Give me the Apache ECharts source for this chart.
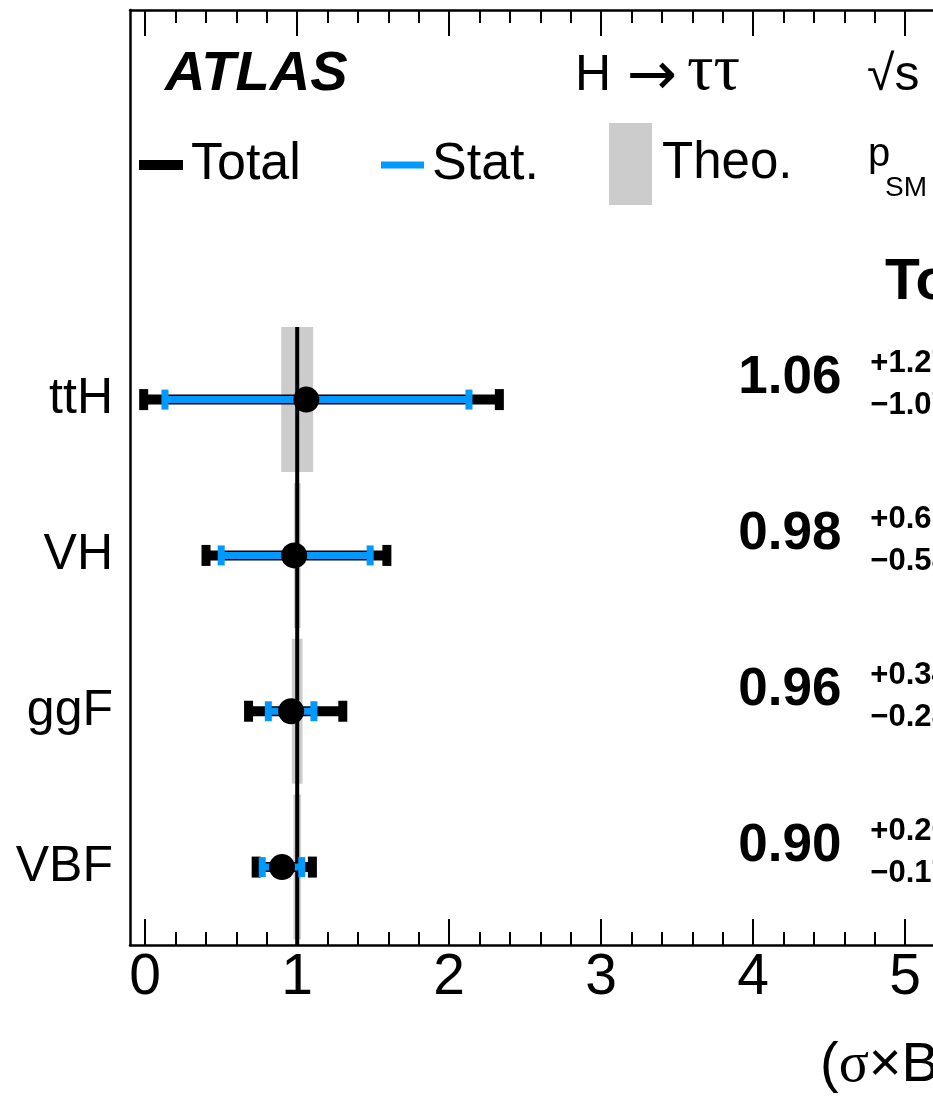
<!DOCTYPE html>
<html>
<head>
<meta charset="utf-8">
<title>H → ττ cross-section ratios</title>
<script src="https://cdn.jsdelivr.net/npm/echarts@6/dist/echarts.min.js"></script>
<style>
  html, body { margin: 0; padding: 0; background: #fff; }
  #chart { width: 933px; height: 1102px; }
</style>
</head>
<body>
<div id="chart"></div>
<script>
// production modes, listed top to bottom as in the plot
const modes = ['ttH', 'VH', 'ggF', 'VBF']
const mu = [1.06, 0.98, 0.96, 0.90]
const totUp = [1.27, 0.61, 0.34, 0.20]
const totDn = [1.07, 0.58, 0.28, 0.17]
const statUp = [1.07, 0.50, 0.15, 0.13]
const statDn = [0.93, 0.48, 0.15, 0.13]
const theoErr = [0.105, 0.022, 0.035, 0.025]
const smValue = 1
const xTicks = [0, 1, 2, 3, 4, 5, 6]
const xMinorTicks = []
xTicks.forEach(t => { for (let k = 1; k < 5; k++) xMinorTicks.push(+(t + k * 0.2).toFixed(1)) })

const FONT = '"Liberation Sans", Arial, Helvetica, sans-serif'
const SERIF = '"Liberation Serif", "DejaVu Serif", serif'
const BLUE = '#0099ff'
const GREY = '#cccccc'

// two empty rows on top leave room for the labels / legend
const categories = [' ', '  '].concat(modes)

const chart = echarts.init(document.getElementById('chart'))

function barRenderer(color, lineW, capW, capH) {
  return function (params, api) {
    const row = api.value(0)
    const a = api.coord([api.value(1), row])
    const b = api.coord([api.value(2), row])
    return {
      type: 'group',
      children: [
        { type: 'line', shape: { x1: a[0], y1: a[1], x2: b[0], y2: b[1] }, style: { stroke: color, lineWidth: lineW } },
        { type: 'rect', shape: { x: a[0] - capW / 2, y: a[1] - capH / 2, width: capW, height: capH }, style: { fill: color } },
        { type: 'rect', shape: { x: b[0] - capW / 2, y: b[1] - capH / 2, width: capW, height: capH }, style: { fill: color } }
      ]
    }
  }
}

const xBase = {
  type: 'value',
  min: -0.1,
  max: 6.9,
  gridIndex: 0,
  splitLine: { show: false },
  axisLabel: { show: false },
  axisLine: { show: false }
}

chart.setOption({
  animation: false,
  backgroundColor: '#fff',
  grid: { left: 130, top: 10, width: 1064, height: 935, outerBoundsMode: 'none', containLabel: false },
  xAxis: [
    Object.assign({}, xBase, {
      position: 'bottom',
      axisLine: { show: true, onZero: false, lineStyle: { color: '#000', width: 2.5 } },
      axisTick: { show: true, inside: true, length: 26, customValues: xTicks, lineStyle: { color: '#000', width: 2 } },
      axisLabel: { show: true, customValues: xTicks, margin: 5, color: '#000', fontSize: 57, fontFamily: FONT }
    }),
    Object.assign({}, xBase, {
      position: 'bottom',
      axisTick: { show: true, inside: true, length: 13, customValues: xMinorTicks, lineStyle: { color: '#000', width: 2 } }
    }),
    Object.assign({}, xBase, {
      position: 'top',
      axisLine: { show: true, onZero: false, lineStyle: { color: '#000', width: 2.5 } },
      axisTick: { show: true, inside: true, length: 26, customValues: xTicks, lineStyle: { color: '#000', width: 2 } }
    }),
    Object.assign({}, xBase, {
      position: 'top',
      axisTick: { show: true, inside: true, length: 13, customValues: xMinorTicks, lineStyle: { color: '#000', width: 2 } }
    })
  ],
  yAxis: {
    type: 'category',
    data: categories,
    inverse: true,
    axisLine: { show: true, onZero: false, lineStyle: { color: '#000', width: 2.5 } },
    axisTick: { show: false },
    axisLabel: { margin: 17, color: '#000', fontSize: 50, fontFamily: FONT }
  },
  legend: [
    { data: ['Total'], left: 139, top: 139, itemWidth: 44, itemHeight: 10, icon: 'rect', padding: 0, selectedMode: false,
      textStyle: { fontSize: 52, fontFamily: FONT, color: '#000', padding: [0, 0, 0, 3] } },
    { data: ['Stat.'], left: 381, top: 139, itemWidth: 43, itemHeight: 7, icon: 'rect', padding: 0, selectedMode: false,
      textStyle: { fontSize: 52, fontFamily: FONT, color: '#000', padding: [0, 0, 0, 3] } },
    { data: ['Theo.'], left: 609, top: 123, itemWidth: 43, itemHeight: 82, icon: 'rect', padding: 0, selectedMode: false,
      textStyle: { fontSize: 51, fontFamily: FONT, color: '#000', padding: [0, 0, 0, 5] } }
  ],
  graphic: [
    { type: 'text', x: 165, y: 75, style: { text: 'ATLAS', font: 'italic bold 56px ' + FONT, fill: '#000', verticalAlign: 'middle' } },
    { type: 'text', x: 575, y: 76, style: { text: 'H', font: '50px ' + FONT, fill: '#000', verticalAlign: 'middle' } },
    { type: 'text', x: 627, y: 78, style: { text: '→', font: '60px "DejaVu Sans", sans-serif', fill: '#000', verticalAlign: 'middle' } },
    { type: 'text', x: 687, y: 72, style: { text: 'ττ', font: '66px ' + SERIF, fill: '#000', verticalAlign: 'middle' } },
    { type: 'text', x: 867, y: 76, style: { text: '√s = 13 TeV, 140 fb⁻¹', font: '50px ' + FONT, fill: '#000', verticalAlign: 'middle' } },
    { type: 'text', x: 868, y: 155, style: { text: 'p', font: '40px ' + FONT, fill: '#000', verticalAlign: 'middle' } },
    { type: 'text', x: 885, y: 188, style: { text: 'SM = 94%', font: '28px ' + FONT, fill: '#000', verticalAlign: 'middle' } },
    { type: 'text', x: 885, y: 283, style: { text: 'Total', font: 'bold 57px ' + FONT, fill: '#000', verticalAlign: 'middle' } },
    { type: 'text', x: 820, y: 1066, style: {
      text: '{p|(}{g|σ}{p|×B)/(}{g|σ}{p|×B)}', verticalAlign: 'middle',
      rich: { p: { fontSize: 56, fontFamily: FONT, fill: '#000' }, g: { fontSize: 56, fontFamily: SERIF, fill: '#000' } } } }
  ],
  series: [
    {
      name: 'Theo.',
      type: 'custom',
      itemStyle: { color: GREY },
      encode: { y: 0, x: [1, 2] },
      data: modes.map((m, i) => [m, smValue - theoErr[i], smValue + theoErr[i]]),
      renderItem(params, api) {
        const row = api.value(0)
        const a = api.coord([api.value(1), row])
        const b = api.coord([api.value(2), row])
        const h = api.size([0, 1])[1] * 0.93
        return { type: 'rect', shape: { x: a[0], y: a[1] - h / 2, width: b[0] - a[0], height: h }, style: { fill: GREY } }
      }
    },
    {
      name: 'SM',
      type: 'custom',
      encode: { y: 0, x: 1 },
      data: [[modes[0], smValue]],
      renderItem(params, api) {
        const p = api.coord([api.value(1), api.value(0)])
        const h = api.size([0, 1])[1] * 0.93
        const bottom = params.coordSys.y + params.coordSys.height
        return { type: 'line', shape: { x1: p[0], y1: p[1] - h / 2, x2: p[0], y2: bottom }, style: { stroke: '#000', lineWidth: 4 } }
      }
    },
    {
      name: 'Total',
      type: 'custom',
      itemStyle: { color: '#000' },
      encode: { y: 0, x: [1, 2] },
      data: modes.map((m, i) => [m, mu[i] - totDn[i], mu[i] + totUp[i]]),
      renderItem: barRenderer('#000', 10, 9, 21)
    },
    {
      name: 'Stat.',
      type: 'custom',
      itemStyle: { color: BLUE },
      encode: { y: 0, x: [1, 2] },
      data: modes.map((m, i) => [m, mu[i] - statDn[i], mu[i] + statUp[i]]),
      renderItem: barRenderer(BLUE, 7, 7, 20)
    },
    {
      name: 'mu',
      type: 'scatter',
      symbol: 'circle',
      symbolSize: 26,
      itemStyle: { color: '#000', opacity: 1 },
      data: modes.map((m, i) => [mu[i], m])
    },
    {
      name: 'values',
      type: 'custom',
      encode: { y: 0, x: 1 },
      data: modes.map((m, i) => [m, mu[i], totUp[i], totDn[i]]),
      renderItem(params, api) {
        const p = api.coord([4.58, api.value(0)])
        return {
          type: 'group',
          children: [
            { type: 'text', x: p[0], y: p[1] - 21, style: { text: api.value(1).toFixed(2), font: 'bold 53px ' + FONT, fill: '#000', align: 'right', verticalAlign: 'middle' } },
            { type: 'text', x: p[0] + 29, y: p[1] - 36, style: { text: '+' + api.value(2).toFixed(2), font: 'bold 31px ' + FONT, fill: '#000', verticalAlign: 'middle' } },
            { type: 'text', x: p[0] + 29, y: p[1] + 6, style: { text: '−' + api.value(3).toFixed(2), font: 'bold 31px ' + FONT, fill: '#000', verticalAlign: 'middle' } }
          ]
        }
      }
    }
  ]
})
</script>
</body>
</html>
